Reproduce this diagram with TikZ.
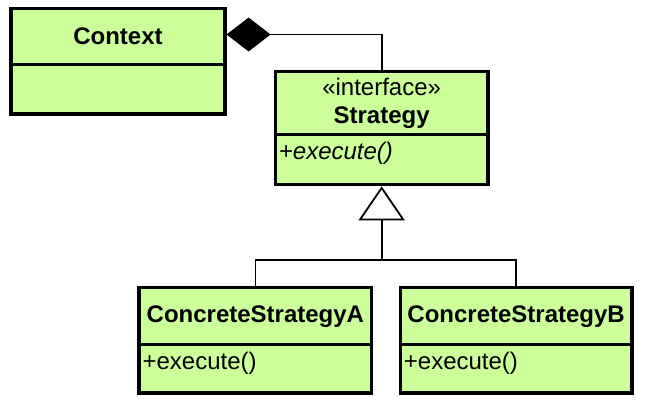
\documentclass[tikz,border=0pt]{standalone}
\usepackage{fontspec}
\setmainfont{Liberation Sans}
\usetikzlibrary{arrows.meta,calc}
\definecolor{umlfill}{RGB}{204,255,153}
\begin{document}
\begin{tikzpicture}[x=1pt,y=-1pt,
  comp/.style={draw=black, line width=3.2pt, fill=umlfill, rectangle, inner sep=0pt, align=center,
    font=\fontsize{24pt}{28pt}\selectfont\bfseries},
  mtext/.style={inner sep=0pt, anchor=base west, font=\fontsize{24pt}{28pt}\selectfont},
  conn/.style={draw=black, line width=1.8pt}
]
\path[use as bounding box, fill=white] (0,0) rectangle (653,416);

% Context
\node[comp, minimum width=214pt, minimum height=55.6pt] (ct) at (118,36.5) {Context};
\node[comp, minimum width=214pt, minimum height=49.7pt] (cm) at (118,89.15) {};

% Strategy
\node[comp, minimum width=212.7pt, minimum height=63.4pt] (st) at (381.65,103)
  {{\mdseries\guillemotleft interface\guillemotright}\\Strategy};
\node[comp, minimum width=212.7pt, minimum height=50pt] (sm) at (381.65,159.7) {};
\node[mtext] (sop) at ($(sm.north west)+(5,26.6)$) {\itshape +execute()};

% ConcreteStrategyA
\node[comp, minimum width=232.8pt, minimum height=57pt] (ca) at (255.4,316.2) {ConcreteStrategyA};
\node[comp, minimum width=232.8pt, minimum height=48.3pt] (cam) at (255.4,368.85) {};
\node[mtext] (caop) at ($(cam.north west)+(5,26.1)$) {+execute()};

% ConcreteStrategyB
\node[comp, minimum width=231.7pt, minimum height=57pt] (cb) at (516.15,316.2) {ConcreteStrategyB};
\node[comp, minimum width=231.7pt, minimum height=48.3pt] (cbm) at (516.15,368.85) {};
\node[mtext] (cbop) at ($(cbm.north west)+(5,26.1)$) {+execute()};

% composition
\draw[conn, -{Diamond[length=44pt,width=34pt]}] (st.north) |- ([yshift=2pt]ct.east);

% generalization
\path (sm.south) ++(0,74) coordinate (gj);
\draw[conn] (ca.north) |- (gj) -| (cb.north);
\draw[conn, -{Triangle[open,length=34pt,width=46pt]}] (gj) -- (sm.south);
\end{tikzpicture}
\end{document}
